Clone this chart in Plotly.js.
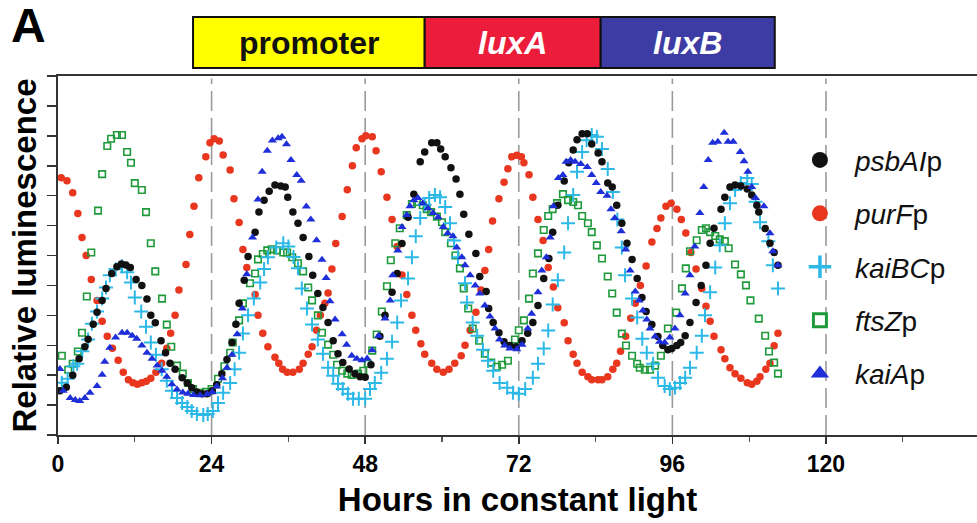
<!DOCTYPE html>
<html>
<head>
<meta charset="utf-8">
<script src="https://cdn.plot.ly/plotly-3.0.1.min.js"></script>
<style>html,body{margin:0;padding:0;background:#fff;}#chart{width:977px;height:523px;}</style>
</head>
<body>
<div id="chart"></div>
<script>
// ---- data (hours in constant light, relative luminescence) ----
const purF_h = [0.5,1.4,2.3,3.1,3.75,4.4,5.2,6.1,6.9,7.7,8.5,9.4,10.2,11.0,11.7,12.4,13.1,13.8,14.5,15.3,16.2,17.0,17.6,18.3,18.9,20.0,20.6,21.25,22.0,23.1,23.75,24.4,25.2,25.8,26.9,27.5,28.3,28.9,29.5,30.8,31.25,32.0,32.8,33.9,34.5,35.1,35.8,36.7,37.7,38.3,39.1,39.7,40.4,41.0,41.7,42.2,42.8,43.4,44.4,45.2,46.0,46.6,47.5,48.1,49.1,49.7,50.5,51.4,52.2,53.0,53.75,54.5,55.3,55.9,56.7,57.3,58.4,59.2,60.2,61.1,62.0,63.0,63.6,64.4,65.3,66.1,66.7,67.3,67.9,68.9,69.7,70.3,70.9,71.7,72.4,72.8,73.6,74.2,75.0,75.8,76.6,77.4,78.1,79.1,79.7,80.5,81.1,81.9,82.8,83.4,84.4,85.0,85.9,86.7,87.3,87.9,88.7,89.5,90.2,91.0,91.9,92.8,93.6,94.2,95.0,95.8,96.7,97.4,98.1,98.9,99.7,100.6,101.25,101.9,102.5,103.6,104.2,105.0,105.8,106.7,107.7,108.4,109.2,109.7,110.6,111.25,111.9,112.5];
const purF_v = [8.6,8.5,8.1,7.4,6.6,6.0,5.2,4.5,3.8,3.3,2.9,2.5,2.1,1.85,1.75,1.7,1.75,1.8,1.9,2.1,2.4,2.9,3.4,4.0,4.85,5.7,6.7,7.65,8.6,9.3,9.77,9.9,9.83,9.36,8.86,7.9,7.1,6.2,5.6,4.7,4.0,3.4,2.95,2.6,2.4,2.2,2.1,2.1,2.2,2.4,2.7,2.95,3.5,4.0,4.4,4.75,5.55,6.4,7.3,8.2,9.0,9.6,9.9,10.0,9.97,9.5,8.8,7.95,7.2,6.3,5.35,4.7,4.0,3.5,3.05,2.7,2.4,2.2,2.1,2.2,2.4,2.65,3.0,3.5,4.1,4.85,5.5,6.2,7.15,7.9,8.45,8.9,9.3,9.35,9.3,9.1,8.7,7.95,7.2,6.5,5.6,4.95,4.25,3.75,3.15,2.7,2.4,2.1,1.95,1.85,1.85,1.85,1.95,2.2,2.4,2.8,3.3,3.9,4.4,5.0,5.65,6.45,6.9,7.25,7.65,7.75,7.55,7.2,6.75,6.1,5.55,4.9,4.3,3.8,3.3,2.85,2.55,2.25,2.05,1.9,1.75,1.7,1.8,1.95,2.2,2.4,2.98,3.4];

const psbAI_h = [0.3,1.3,2.3,3.3,4.2,4.7,5.5,6.1,6.9,7.5,8.4,9.2,9.9,10.6,11.3,12.2,13.1,13.9,14.5,15.2,16.1,16.8,17.5,18.3,19.4,20.2,20.9,21.7,22.5,23.3,24.1,24.8,25.6,26.4,27.2,27.8,28.3,29.1,29.7,30.8,31.4,32.2,33.0,33.9,34.8,35.5,35.9,36.7,37.5,38.3,39.2,39.8,40.6,41.4,42.2,43.0,43.75,44.5,45.5,46.4,47.2,48.0,48.9,50.3,51.1,52.2,53.0,53.75,54.7,55.6,56.6,57.3,58.4,59.2,59.8,60.5,61.4,62.2,62.8,63.4,64.2,65.3,65.9,66.9,67.3,68.0,68.9,69.7,70.6,71.6,72.5,73.4,74.2,75.0,75.9,76.7,77.3,78.1,79.1,79.8,80.5,81.1,81.9,82.7,83.4,84.4,85.0,85.9,86.6,87.3,88.1,88.9,89.7,90.5,91.25,91.9,92.8,93.75,94.5,95.3,95.9,96.7,97.3,98.0,98.75,99.7,100.5,101.25,101.9,102.5,103.6,104.2,105.0,105.8,106.7,107.7,108.4,109.2,109.5,110.5,111.25,111.9,112.5];
const psbAI_v = [1.48,1.6,2.0,2.55,2.95,3.2,3.7,4.1,4.5,4.9,5.4,5.62,5.72,5.68,5.6,5.2,5.0,4.55,4.0,3.75,3.15,2.75,2.4,2.2,1.91,1.74,1.58,1.44,1.38,1.38,1.48,1.68,2.05,2.52,3.09,3.7,4.4,5.17,5.97,6.78,7.45,7.85,8.15,8.36,8.32,8.29,7.95,7.45,7.08,6.6,5.97,5.34,4.73,4.26,3.76,3.15,2.72,2.42,2.21,2.05,1.95,1.93,2.35,3.3,4.0,4.77,5.4,6.4,7.28,8.05,9.13,9.46,9.77,9.77,9.56,9.3,8.93,8.56,8.05,7.38,6.71,6.07,5.3,4.8,4.23,3.76,3.42,3.12,2.99,2.95,3.15,3.4,3.76,4.33,5.23,5.9,6.78,7.68,8.49,9.1,9.53,9.87,10.07,10.07,9.73,9.43,9.13,8.42,8.29,7.68,7.08,6.41,5.87,5.23,4.6,4.13,3.69,3.29,2.99,2.85,2.89,2.99,3.09,3.32,3.76,4.43,5.0,5.67,6.41,6.91,7.55,7.95,8.29,8.36,8.32,8.22,8.02,7.68,7.45,6.9,6.41,6.1,5.67];

const kaiBC_h = [0.6,1.5,2.4,3.0,3.8,4.7,5.3,6.1,6.9,7.5,8.1,9.0,10.0,10.8,11.4,12.0,13.0,13.75,14.5,15.3,16.2,17.0,17.8,18.6,19.4,20.2,20.9,21.7,22.7,23.4,24.2,25.0,25.8,26.9,27.6,28.3,28.9,29.7,30.6,31.6,32.2,32.8,34.1,35.2,36.0,36.8,37.5,38.1,38.9,39.7,40.6,41.4,42.2,43.0,43.75,44.5,45.3,46.1,47.0,48.0,48.75,49.5,50.5,51.4,52.2,53.0,53.6,54.7,55.3,55.9,56.6,57.3,58.0,58.9,59.7,60.5,61.25,61.9,62.5,63.6,63.9,64.8,65.5,66.4,67.2,68.0,69.0,70.2,71.1,72.0,73.0,74.2,75.0,75.9,76.6,77.3,78.1,79.1,79.7,80.5,81.1,81.9,82.6,83.4,84.2,85.0,85.9,86.7,87.4,88.1,88.6,89.7,90.5,91.3,92.0,93.0,93.75,94.8,95.6,96.4,97.2,98.0,98.75,99.8,100.6,101.1,101.9,102.7,103.4,104.2,105.0,105.8,106.7,107.7,108.4,109.0,109.7,111.0,111.7,112.5];
const kaiBC_v = [1.75,1.88,2.3,2.38,2.8,3.19,3.72,4.13,4.56,4.93,5.34,5.54,5.64,5.44,5.1,4.6,4.13,3.62,3.09,2.68,2.2,1.81,1.48,1.24,1.07,0.94,0.8,0.7,0.67,0.7,0.8,1.07,1.41,1.74,2.2,2.75,3.39,4.0,4.56,5.1,5.55,5.94,6.27,6.41,6.3,5.95,5.57,4.9,4.23,3.69,3.19,2.72,2.25,1.98,1.71,1.54,1.38,1.21,1.21,1.21,1.54,1.74,2.08,2.55,3.12,3.76,4.5,5.23,5.94,6.64,7.25,7.7,7.92,8.02,7.95,7.62,7.08,6.5,5.94,5.07,4.43,3.76,3.32,2.85,2.48,2.15,1.74,1.58,1.41,1.38,1.54,1.91,2.38,2.89,3.49,4.36,5.17,6.1,7.08,8.02,8.8,9.46,9.85,10.03,9.97,9.56,8.89,8.12,7.2,6.27,5.34,4.56,3.93,3.22,2.75,2.38,1.91,1.64,1.54,1.58,1.74,1.91,2.25,2.75,3.32,4.0,4.77,5.6,6.34,7.08,7.75,8.19,8.42,8.59,8.39,7.8,7.11,6.48,5.67,4.9];

const ftsZ_h = [0.6,1.6,2.3,3.1,3.75,4.5,5.2,6.25,6.9,7.7,8.3,9.2,10.0,10.8,11.4,12.0,13.1,13.75,14.5,15.2,16.25,17.0,17.7,18.6,19.5,20.3,21.1,22.2,23.1,24.0,25.0,26.0,26.9,27.3,28.3,28.9,30.0,30.8,31.25,32.0,32.7,33.4,34.2,35.2,35.8,36.6,37.5,38.3,39.1,39.7,40.6,41.25,42.2,43.0,43.6,44.4,45.2,45.9,46.9,47.7,48.4,49.1,49.8,50.6,51.4,52.0,52.7,53.4,54.5,55.3,56.1,57.0,57.6,58.3,59.2,60.0,60.5,61.4,62.1,62.8,63.4,64.1,64.8,65.8,66.7,67.7,68.6,69.4,70.3,71.4,72.0,72.8,73.6,74.2,75.0,75.9,76.6,77.3,78.0,78.9,79.7,80.5,81.25,81.9,82.8,83.4,84.2,85.0,85.9,86.6,87.3,88.1,88.75,89.7,90.5,90.9,91.7,92.5,93.3,94.2,95.3,96.6,97.5,98.1,98.75,99.8,100.6,101.25,101.9,102.7,103.4,104.2,104.8,105.8,106.7,107.5,108.2,109.5,110.5,111.1,111.9,112.5];
const ftsZ_v = [2.65,2.18,2.38,2.79,3.42,4.63,6.1,7.5,8.72,9.66,9.9,10.03,10.03,9.46,9.1,8.42,8.19,7.45,6.41,5.47,4.56,3.69,2.95,2.32,2.05,1.74,1.54,1.41,1.44,1.54,1.88,2.3,2.75,3.09,3.83,4.4,5.07,5.4,5.87,6.05,6.17,6.21,6.17,6.1,6.1,5.94,5.74,5.47,4.93,4.5,4.0,3.42,3.02,2.68,2.35,2.15,2.05,2.01,2.05,2.15,2.38,2.82,3.36,4.13,4.97,5.84,6.41,6.91,7.35,7.72,7.79,7.68,7.55,7.45,7.3,7.11,6.78,6.41,6.0,5.57,4.9,4.23,3.56,3.15,2.72,2.42,2.28,2.35,2.48,3.19,3.5,3.83,4.56,5.4,6.07,6.85,7.32,7.55,7.75,8.05,7.85,7.79,7.68,7.32,7.08,6.78,6.34,5.9,5.3,4.73,4.09,3.39,2.99,2.65,2.38,2.25,2.18,2.18,2.32,2.65,3.56,4.09,4.9,5.57,6.14,6.51,6.85,6.91,6.78,6.65,6.54,6.48,6.24,5.7,5.37,5.0,4.5,3.89,3.32,2.79,2.42,2.05];

const kaiA_h = [0.3,0.8,1.9,2.7,3.4,4.2,5.0,6.1,6.9,7.3,8.1,9.0,10.0,10.8,11.6,12.3,13.1,13.9,14.7,15.5,16.25,17.0,17.8,18.6,19.5,20.3,21.2,22.2,23.3,24.1,24.8,25.7,26.4,27.2,28.0,28.8,29.5,30.4,31.25,31.9,32.7,33.5,34.4,35.0,35.7,36.4,37.3,38.0,38.8,39.5,40.4,41.25,41.9,42.5,43.3,44.4,45.1,45.9,46.7,47.5,48.3,49.1,50.1,51.1,51.9,52.3,53.1,53.75,54.5,55.0,55.6,56.25,57.0,57.8,58.6,59.4,60.2,60.9,61.7,62.3,63.1,63.6,64.4,65.2,65.9,66.7,67.5,68.3,69.0,69.8,70.6,71.7,72.5,73.4,74.0,75.0,75.6,76.3,76.9,77.4,78.2,78.9,79.4,80.1,80.8,81.7,82.7,83.4,84.1,84.8,85.8,86.4,87.0,88.0,88.7,89.4,90.2,90.8,91.4,92.0,92.5,93.3,94.0,94.8,95.6,96.4,97.2,98.0,98.75,99.5,100.3,100.9,101.6,102.3,103.1,104.1,104.7,105.5,106.6,107.2,107.8,108.4,109.0,110.3,111.25,111.7,112.5];
const kaiA_v = [2.21,1.48,1.24,1.17,1.14,1.24,1.41,1.64,2.01,2.45,2.92,3.26,3.42,3.42,3.32,3.22,2.99,2.75,2.55,2.32,2.15,1.95,1.7,1.52,1.42,1.38,1.34,1.33,1.36,1.43,1.62,1.9,2.25,2.68,3.37,4.23,5.37,6.6,7.87,8.8,9.5,9.84,9.92,9.97,9.72,9.19,8.69,8.5,7.64,7.2,6.51,5.86,5.25,4.47,3.86,3.37,3.02,2.65,2.55,2.5,2.56,2.83,3.32,3.89,4.5,5.34,6.17,6.95,7.35,7.65,7.85,7.92,7.75,7.58,7.42,7.28,6.95,6.74,6.64,6.27,5.94,5.67,5.34,5.0,4.73,4.33,3.96,3.56,3.19,2.99,2.89,2.87,3.02,3.56,4.05,4.77,5.5,5.94,6.6,7.65,8.59,8.69,9.13,9.19,9.13,9.06,8.96,8.69,8.42,8.12,8.0,7.55,7.25,6.81,6.2,5.5,4.8,4.5,4.16,3.86,3.56,3.29,3.12,3.09,3.26,3.56,4.0,4.73,5.34,6.3,7.42,8.29,9.19,9.77,9.8,10.1,9.8,9.8,9.46,9.15,8.8,8.29,7.92,7.65,6.74,6.14,5.67];

const xTickVals = [0, 24, 48, 72, 96, 120];
const xTickText = ['0', '24', '48', '72', '96', '120'];
const dayLines = [24, 48, 72, 96, 120];
const constructParts = ['promoter', 'luxA', 'luxB'];
const constructEdges = [21.1, 57.3, 84.8, 112.0];

// ---- styles ----
const NARROW = "'Liberation Sans Narrow', 'Arial Narrow', 'Liberation Sans', Arial, sans-serif";
const SANS = "'Liberation Sans', Arial, sans-serif";

const series = [
  {name: '<i>psbAI</i>p', h: psbAI_h, v: psbAI_v, sym: 'circle', size: 7.5, lsize: 16, color: '#111111', lw: 0, rank: 1},
  {name: '<i>purF</i>p', h: purF_h, v: purF_v, sym: 'circle', size: 7.5, lsize: 16, color: '#E8361F', lw: 0, rank: 2},
  {name: '<i>kaiBC</i>p', h: kaiBC_h, v: kaiBC_v, sym: 'cross-thin', size: 10, lsize: 20, color: '#2CB9E8', lw: 2, llw: 3.5, rank: 3},
  {name: '<i>ftsZ</i>p', h: ftsZ_h, v: ftsZ_v, sym: 'square-open', size: 6.5, lsize: 13, color: '#1F9A3A', lw: 1.6, llw: 3, rank: 4},
  {name: '<i>kaiA</i>p', h: kaiA_h, v: kaiA_v, sym: 'triangle-up', size: 8, lsize: 16, color: '#1E2ED8', lw: 0, rank: 5}
];
const drawOrder = [1, 3, 2, 0, 4];

const traces = [];
drawOrder.forEach(i => {
  const s = series[i];
  traces.push({
    type: 'scatter', mode: 'markers', x: s.h, y: s.v, showlegend: false, hoverinfo: 'skip',
    marker: {symbol: s.sym, size: s.size, color: s.color, line: {width: s.lw, color: s.color}}
  });
});
series.forEach((s, i) => {
  traces.push({
    type: 'scatter', mode: 'markers', x: [null], y: [null], name: s.name,
    legendgroup: 'g' + i, legendrank: s.rank, showlegend: true,
    marker: {symbol: s.sym, size: s.lsize, color: s.color, line: {width: s.llw || 0, color: s.color}}
  });
});

const shapes = dayLines.map(d => ({
  type: 'line', xref: 'x', yref: 'paper', x0: d, x1: d, y0: 0, y1: 0.993,
  line: {color: '#9a9a9a', width: 1.6, dash: '20px,7px'}, layer: 'below'
}));
const boxFill = ['#FFFF00', '#EC1D3A', '#3C3CA4'];
const boxText = ['#111111', '#FFFFFF', '#FFFFFF'];
const annotations = [];
constructParts.forEach((p, i) => {
  shapes.push({type: 'rect', xref: 'x', yref: 'paper', x0: constructEdges[i], x1: constructEdges[i + 1],
    y0: 1.022, y1: 1.164, fillcolor: boxFill[i], line: {color: '#111', width: 2}});
  annotations.push({xref: 'x', yref: 'paper', x: (constructEdges[i] + constructEdges[i + 1]) / 2, y: 1.093,
    xanchor: 'center', yanchor: 'middle',
    text: i === 0 ? p : '<i>' + p + '</i>', showarrow: false,
    font: {family: SANS, size: 32, color: boxText[i], weight: 'bold'}});
});
annotations.push({xref: 'paper', yref: 'paper', x: -0.032, y: 1.142, xanchor: 'center', yanchor: 'middle',
  text: 'A', showarrow: false, font: {family: SANS, size: 48, color: '#000', weight: 'bold'}});

const layout = {
  width: 977, height: 523,
  margin: {l: 58, r: 0, t: 76, b: 88},
  paper_bgcolor: '#fff', plot_bgcolor: '#fff',
  showlegend: true,
  legend: {x: 0.791, y: 0.835, xanchor: 'left', yanchor: 'top', bgcolor: 'rgba(0,0,0,0)',
    tracegroupgap: 14, itemsizing: 'trace', itemwidth: 60, traceorder: 'grouped',
    font: {family: SANS, size: 28, color: '#111'}},
  xaxis: {
    range: [0, 143.6], showgrid: false, zeroline: false,
    tickvals: xTickVals, ticktext: xTickText, ticks: 'outside', ticklen: 7, tickwidth: 1.5, tickcolor: '#333',
    minor: {dtick: 12, tick0: 0, ticks: 'outside', ticklen: 5, tickwidth: 1.2, tickcolor: '#555', showgrid: false},
    showline: true, linecolor: '#333', linewidth: 2, mirror: true,
    tickfont: {family: NARROW, size: 23, color: '#000', weight: 'bold'},
    title: {text: 'Hours in constant light', standoff: 12, font: {family: NARROW, size: 33, color: '#000', weight: 'bold'}}
  },
  yaxis: {
    range: [0, 12], dtick: 1, showgrid: false, zeroline: false, showticklabels: false,
    ticks: 'outside', ticklen: 9, tickwidth: 1.5, tickcolor: '#333',
    showline: true, linecolor: '#333', linewidth: 2,
    title: {text: 'Relative luminescence', standoff: 0, font: {family: SANS, size: 33, color: '#000', weight: 'bold'}}
  },
  shapes: shapes,
  annotations: annotations
};

Plotly.newPlot('chart', traces, layout, {displayModeBar: false, staticPlot: true});
</script>
</body>
</html>
